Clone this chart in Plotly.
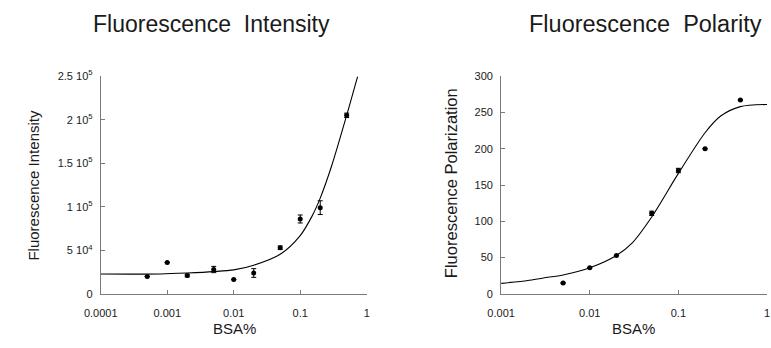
import plotly.graph_objects as go

# ---------------- data ----------------
# Left panel: Fluorescence Intensity vs BSA%
fi_x = [0.0005, 0.001, 0.002, 0.005, 0.01, 0.02, 0.05, 0.1, 0.2, 0.5]
fi_y = [20000, 36000, 21000, 28000, 16500, 24000, 53000, 86000, 99000, 205000]
fi_err = [0, 0, 1500, 3600, 0, 5000, 2000, 4600, 7900, 2500]
# fitted curve
fi_fit_x = [0.0001, 0.0008, 0.002, 0.005, 0.01, 0.02, 0.05, 0.1, 0.15, 0.2, 0.3, 0.5, 0.73]
fi_fit_y = [22800, 22900, 24000, 25600, 27600, 33000, 45500, 67000, 89000, 110000, 148000, 205000, 249500]

# Right panel: Fluorescence Polarization vs BSA%
fp_x = [0.005, 0.01, 0.02, 0.05, 0.1, 0.2, 0.5]
fp_y = [15, 36, 53, 111, 170, 200, 267]
fp_err = [0, 0, 0, 3, 3, 0, 0]
fp_fit_x = [0.001, 0.002, 0.003, 0.005, 0.01, 0.02, 0.03, 0.05, 0.1, 0.2, 0.3, 0.5, 1.0]
fp_fit_y = [14.5, 18.5, 22, 26, 36, 53, 70, 106, 166, 222, 245, 258, 261]

# tick labels
fi_tickvals = [0, 50000, 100000, 150000, 200000, 250000]
fi_ticktext = ["0", "5 10<sup>4</sup>", "1 10<sup>5</sup>", "1.5 10<sup>5</sup>",
               "2 10<sup>5</sup>", "2.5 10<sup>5</sup>"]
fi_xtickvals = [0.0001, 0.001, 0.01, 0.1, 1]
fi_xticktext = ["0.0001", "0.001", "0.01", "0.1", "1"]
fp_tickvals = [0, 50, 100, 150, 200, 250, 300]
fp_xtickvals = [0.001, 0.01, 0.1, 1]
fp_xticktext = ["0.001", "0.01", "0.1", "1"]

# ---------------- figure ----------------
FONT = "Liberation Sans, Arial, sans-serif"
AX = "#7a7a7a"
TXT = "#1a1a1a"

fig = go.Figure()

fig.add_trace(go.Scatter(x=fi_fit_x, y=fi_fit_y, mode="lines",
                         line=dict(color="black", width=1.1, shape="spline", smoothing=0.8),
                         xaxis="x", yaxis="y", hoverinfo="skip"))
fig.add_trace(go.Scatter(x=fi_x, y=fi_y, mode="markers",
                         marker=dict(color="black", size=5),
                         error_y=dict(type="data", array=fi_err, visible=True, color="black", thickness=1, width=2.5),
                         xaxis="x", yaxis="y"))

fig.add_trace(go.Scatter(x=fp_fit_x, y=fp_fit_y, mode="lines",
                         line=dict(color="black", width=1.1, shape="spline", smoothing=0.8),
                         xaxis="x2", yaxis="y2", hoverinfo="skip"))
fig.add_trace(go.Scatter(x=fp_x, y=fp_y, mode="markers",
                         marker=dict(color="black", size=5),
                         error_y=dict(type="data", array=fp_err, visible=True, color="black", thickness=1, width=2.5),
                         xaxis="x2", yaxis="y2"))

axis_common = dict(showgrid=False, zeroline=False, showline=True, linecolor=AX, linewidth=1,
                   ticks="inside", ticklen=4, tickcolor=AX, tickwidth=1,
                   tickfont=dict(family=FONT, size=11, color=TXT))

ydom = [0.144, 0.796]
fig.update_layout(
    width=771, height=348,
    margin=dict(l=0, r=0, t=0, b=0),
    paper_bgcolor="white", plot_bgcolor="white",
    showlegend=False,
    xaxis=dict(domain=[86/771, 359/771], type="log", range=[-4, 0], anchor="y",
               tickvals=fi_xtickvals, ticktext=fi_xticktext, ticklabelstandoff=9, **axis_common),
    yaxis=dict(domain=ydom, range=[0, 250000], anchor="x",
               tickvals=fi_tickvals, ticktext=fi_ticktext, ticklabelstandoff=5, **axis_common),
    xaxis2=dict(domain=[497/771, 770/771], type="log", range=[-3, 0], anchor="y2",
                tickvals=fp_xtickvals, ticktext=fp_xticktext, ticklabelstandoff=9, **axis_common),
    yaxis2=dict(domain=ydom, range=[0, 300], anchor="x2",
                tickvals=fp_tickvals, ticklabelstandoff=5, **axis_common),
)

ann = [
    dict(text="Fluorescence  Intensity", x=200/771, y=1-17/348, size=23),
    dict(text="Fluorescence  Polarity", x=645/771, y=1-17/348, size=23.5),
    dict(text="BSA%", x=223/771, y=1-334/348, size=15),
    dict(text="BSA%", x=633/771, y=1-334/348, size=15),
]
for a in ann:
    fig.add_annotation(text=a["text"], x=a["x"], y=a["y"], xref="paper", yref="paper",
                       xanchor="center", yanchor="middle", showarrow=False,
                       font=dict(family=FONT, size=a["size"], color=TXT))

fig.add_annotation(text="Fluorescence Intensity", x=17.5/771, y=1-185/348, xref="paper", yref="paper",
                   xanchor="center", yanchor="middle", showarrow=False, textangle=-90,
                   font=dict(family=FONT, size=15, color=TXT))
fig.add_annotation(text="Fluorescence Polarization", x=445/771, y=1-182/348, xref="paper", yref="paper",
                   xanchor="center", yanchor="middle", showarrow=False, textangle=-90,
                   font=dict(family=FONT, size=16.5, color=TXT))

fig.write_html("out.html", config={"displayModeBar": False},
               post_script="document.body.style.margin='0';document.body.style.overflow='hidden';")
